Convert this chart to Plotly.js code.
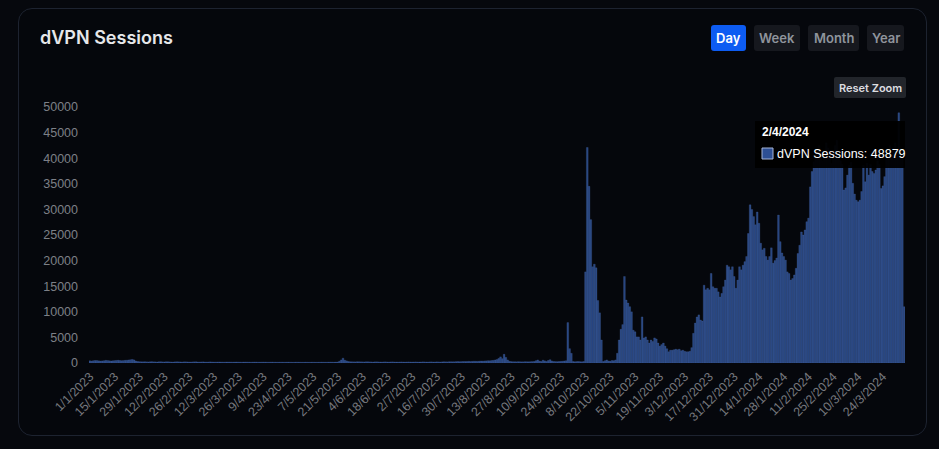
<!DOCTYPE html>
<html>
<head>
<meta charset="utf-8">
<script src="https://cdn.plot.ly/plotly-3.0.1.min.js"></script>
<style>
  html, body { margin:0; padding:0; background:#06080d; width:939px; height:449px; overflow:hidden; }
  #card { position:absolute; left:18px; top:8px; width:909px; height:428px; border:1px solid #1d2330; border-radius:14px; background:#05070c; box-sizing:border-box; }
  #chart { position:absolute; left:0; top:0; width:939px; height:449px; }
</style>
</head>
<body>
<div id="card"></div>
<div id="chart"></div>
<script>
// Daily dVPN sessions, 1/1/2023 .. 31/12/2023
const sessions2023 = [
  420, 380, 450, 500, 470, 430, 390, 410, 460, 520, 480, 440, 400, 430,
  470, 510, 540, 490, 450, 480, 530, 560, 600, 640, 700, 600, 380, 300,
  260, 240, 220, 250, 230, 210, 240, 260, 230, 220, 200, 230, 250, 220,
  210, 230, 240, 220, 200, 190, 220, 240, 230, 210, 200, 220, 230, 210,
  200, 190, 210, 230, 220, 200, 190, 210, 220, 200, 180, 200, 220, 210,
  190, 180, 200, 210, 190, 180, 170, 190, 200, 190, 180, 170, 190, 200,
  180, 170, 160, 180, 190, 180, 170, 160, 170, 190, 180, 170, 160, 170,
  180, 170, 160, 150, 170, 180, 170, 160, 150, 160, 170, 160, 150, 160,
  170, 160, 150, 140, 160, 170, 160, 150, 140, 150, 160, 150, 140, 150,
  160, 150, 140, 150, 160, 170, 160, 150, 160, 170, 180, 170, 160, 180,
  200, 350, 600, 950, 550, 420, 300, 260, 240, 230, 220, 250, 240, 230,
  220, 210, 230, 240, 220, 210, 200, 220, 230, 210, 200, 190, 210, 220,
  200, 190, 210, 220, 200, 190, 180, 200, 210, 190, 180, 200, 210, 200,
  190, 200, 210, 190, 180, 200, 220, 210, 200, 190, 210, 220, 200, 210,
  220, 210, 200, 220, 240, 230, 220, 250, 260, 240, 250, 270, 280, 260,
  280, 300, 290, 310, 330, 300, 320, 350, 340, 330, 360, 380, 370, 400,
  420, 450, 430, 480, 520, 600, 700, 900, 1200, 850, 1700, 1100, 600, 350,
  280, 260, 250, 240, 260, 250, 230, 240, 260, 250, 240, 260, 280, 300,
  450, 600, 380, 300, 550, 420, 320, 500, 650, 400, 300, 280, 260, 300,
  320, 350, 400, 450, 7900, 2800, 1900, 300, 250, 280, 300, 260, 240, 300,
  17800, 42100, 34500, 28000, 18800, 19300, 18600, 12200, 9800, 4500, 300, 450, 600, 400,
  350, 500, 450, 600, 1900, 4500, 6600, 7500, 16900, 12300, 11700, 11000, 10000, 6400,
  6100, 5100, 5100, 4500, 9000, 4900, 5100, 4500, 3900, 4500, 4200, 4900, 4700, 3900,
  3300, 3600, 3900, 3300, 2800, 2200, 2500, 2500, 2600, 2700, 2600, 2700, 2400, 2500,
  2300, 2200, 2200, 2300, 3000, 5800, 7800, 9000, 9400, 8400, 8200, 15200, 14300, 14600,
  14300, 17500, 14900, 14600, 14600, 13900, 12900, 13600, 14900, 16200, 19100, 18800, 18200, 18800,
  16900
];
// Daily dVPN sessions, 1/1/2024 .. 5/4/2024
const sessions2024 = [
  14600, 16200, 18800, 18200, 19100, 19800, 20800, 25300, 30900, 30000, 28600, 27000, 29500,
  27300, 23400, 22100, 22400, 20800, 20100, 20800, 22500, 19500, 20000, 20500, 28900, 23700, 21500,
  20800, 20100, 17800, 17500, 16200, 16500, 17200, 18500, 21400, 23000, 25600, 25000, 26000, 27600,
  28300, 34400, 37400, 39300, 40000, 41000, 42500, 40500, 39500, 41500, 43000, 42000, 40000, 39000,
  41000, 42500, 43500, 41000, 39500, 38800, 33800, 34200, 36700, 38600, 39200, 35100, 33000, 31800,
  31500, 31800, 33500, 38600, 35400, 39000, 36700, 38800, 37400, 37000, 37700, 39500, 38800, 34100,
  34600, 36400, 40000, 41500, 42500, 40500, 42000, 43000, 41500, 48879, 42000, 40500, 11000
];
const seriesName = "dVPN Sessions";
const yTicks = [0, 5000, 10000, 15000, 20000, 25000, 30000, 35000, 40000, 45000, 50000];
const rangeButtons = ["Day", "Week", "Month", "Year"];
const tooltipDate = "2/4/2024";
const tooltipValue = 48879;

const sessions = sessions2023.concat(sessions2024);
const start = Date.UTC(2023, 0, 1);
const dayLabels = sessions.map((_, i) => {
  const d = new Date(start + i * 86400000);
  return d.getUTCDate() + "/" + (d.getUTCMonth() + 1) + "/" + d.getUTCFullYear();
});
const tickLabels = dayLabels.filter((_, i) => i % 14 === 0);

// pixel -> paper helpers
const L = 89, R = 905, T = 107, B = 363;
const px = p => (p - L) / (R - L);
const py = p => (B - p) / (B - T);
function roundRect(x0, y0, x1, y1, r) {
  const X = px, Y = py;
  return "M" + X(x0 + r) + "," + Y(y0) +
    " L" + X(x1 - r) + "," + Y(y0) + " Q" + X(x1) + "," + Y(y0) + " " + X(x1) + "," + Y(y0 + r) +
    " L" + X(x1) + "," + Y(y1 - r) + " Q" + X(x1) + "," + Y(y1) + " " + X(x1 - r) + "," + Y(y1) +
    " L" + X(x0 + r) + "," + Y(y1) + " Q" + X(x0) + "," + Y(y1) + " " + X(x0) + "," + Y(y1 - r) +
    " L" + X(x0) + "," + Y(y0 + r) + " Q" + X(x0) + "," + Y(y0) + " " + X(x0 + r) + "," + Y(y0) + " Z";
}

const btnBoxes = [[711, 746], [754, 800], [808, 859], [867, 904]];
const shapes = [];
const annotations = [];
btnBoxes.forEach((b, i) => {
  shapes.push({type: "path", xref: "paper", yref: "paper", path: roundRect(b[0], 25, b[1], 51, 3),
    fillcolor: i === 0 ? "#0d5cf2" : "#16181e", line: {width: 0}, layer: "above"});
  annotations.push({xref: "paper", yref: "paper", x: px((b[0] + b[1]) / 2), y: py(38),
    xanchor: "center", yanchor: "middle", showarrow: false, text: rangeButtons[i],
    font: {family: "Inter, sans-serif", size: 13, weight: 600, color: i === 0 ? "#ffffff" : "#8f949c"}});
});
// Reset zoom button
shapes.push({type: "path", xref: "paper", yref: "paper", path: roundRect(834, 77, 906, 98, 2),
  fillcolor: "#22252b", line: {width: 0}, layer: "above"});
annotations.push({xref: "paper", yref: "paper", x: px(870), y: py(88), xanchor: "center", yanchor: "middle",
  showarrow: false, text: "Reset Zoom", font: {family: "Inter, sans-serif", size: 11, weight: 600, color: "#dcdde0"}});
// Tooltip
shapes.push({type: "rect", xref: "paper", yref: "paper", x0: px(755), x1: px(905), y0: py(168), y1: py(121),
  fillcolor: "rgba(0,0,0,0.95)", line: {width: 0}, layer: "above"});
shapes.push({type: "rect", xref: "paper", yref: "paper", x0: px(762), x1: px(773), y0: py(159), y1: py(148),
  fillcolor: "#2d4f94", line: {width: 1, color: "#a5b4d6"}, layer: "above"});
annotations.push({xref: "paper", yref: "paper", x: px(760), y: py(132), xanchor: "left", yanchor: "middle",
  showarrow: false, text: "<b>" + tooltipDate + "</b>", font: {family: "Liberation Sans, Arial, sans-serif", size: 12, color: "#ffffff"}});
annotations.push({xref: "paper", yref: "paper", x: px(775), y: py(154), xanchor: "left", yanchor: "middle",
  showarrow: false, text: seriesName + ": " + tooltipValue, font: {family: "Liberation Sans, Arial, sans-serif", size: 12.5, color: "#ffffff"}});

const trace = {
  type: "bar",
  x: dayLabels,
  y: sessions,
  name: seriesName,
  marker: {color: "#27457f", line: {color: "rgba(90,120,185,0.4)", width: 0.5}},
  hoverinfo: "skip"
};

const layout = {
  width: 939, height: 449,
  margin: {l: L, r: 939 - R, t: T, b: 449 - B, pad: 0},
  paper_bgcolor: "rgba(0,0,0,0)",
  plot_bgcolor: "rgba(0,0,0,0)",
  showlegend: false,
  bargap: 0,
  title: {text: "dVPN Sessions", xref: "container", yref: "container", x: 40 / 939, xanchor: "left",
    y: 1 - 38 / 449, yanchor: "middle",
    font: {family: "Inter, sans-serif", size: 18, weight: 600, color: "#e6e7ea"}},
  xaxis: {type: "category", tickmode: "array", tickvals: tickLabels, ticktext: tickLabels, tickangle: -45,
    tickfont: {family: "Liberation Sans, Arial, sans-serif", size: 12.5, color: "#76787e"},
    showgrid: false, showline: false, zeroline: false, ticks: "", ticklabelstandoff: 3, fixedrange: true},
  yaxis: {range: [0, 50000], tickmode: "array", tickvals: yTicks, ticktext: yTicks.map(String),
    tickfont: {family: "Liberation Sans, Arial, sans-serif", size: 12.5, color: "#7d8087"},
    showgrid: false, showline: false, zeroline: false, ticks: "", ticklabelstandoff: 10, fixedrange: true},
  shapes: shapes,
  annotations: annotations,
  hovermode: false
};

Plotly.newPlot("chart", [trace], layout, {displayModeBar: false, staticPlot: true});
</script>
</body>
</html>
